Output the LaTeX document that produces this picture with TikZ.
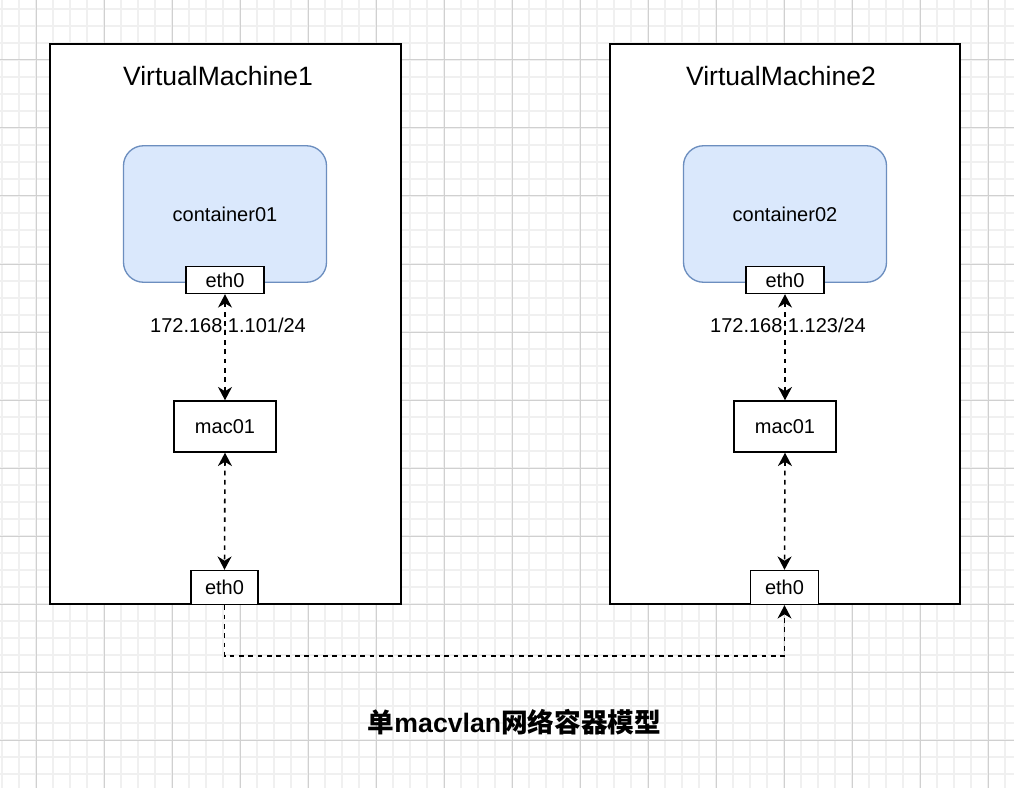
\documentclass[tikz,border=0pt]{standalone}
\usepackage{fontspec}
\setmainfont{Liberation Sans}
\newfontfamily\cjk{Noto Sans CJK SC}
\usetikzlibrary{arrows.meta}
\definecolor{gridminor}{HTML}{F0F0F0}
\definecolor{gridmajor}{HTML}{D0D0D0}
\definecolor{contfill}{HTML}{DAE8FC}
\definecolor{contdraw}{HTML}{6C8EBF}
\tikzset{
  vmbox/.style={draw=black, line width=1.1pt, fill=white, rectangle, inner sep=0pt},
  contbox/.style={draw=contdraw, line width=1pt, fill=contfill, rectangle, rounded corners=15pt, inner sep=0pt,
    font=\fontsize{15pt}{18pt}\selectfont},
  smallbox/.style={draw=black, line width=1.1pt, fill=white, rectangle, inner sep=0pt,
    font=\fontsize{15pt}{18pt}\selectfont},
  vmtitle/.style={font=\fontsize{19.9pt}{24pt}\selectfont, inner sep=0pt},
  iplabel/.style={font=\fontsize{15pt}{18pt}\selectfont, inner sep=0pt},
  link/.style={draw=black, line width=1.2pt, dash pattern=on 3.5pt off 3.5pt,
    >={Stealth[length=10pt, width=10.5pt, inset=3.2pt]}},
}
\begin{document}
\begin{tikzpicture}[x=0.75pt, y=-0.75pt]
\useasboundingbox (0,0) rectangle (1014,788);
\fill[white] (0,0) rectangle (1014,788);
% grid
\foreach \gx in {2,19,...,1013} \draw[gridminor, line width=1.2pt] (\gx,0) -- (\gx,788);
\foreach \gy in {9,26,...,787} \draw[gridminor, line width=1.2pt] (0,\gy) -- (1014,\gy);
\foreach \gx in {36,104,...,1013} \draw[gridmajor, line width=0.75pt] (\gx,0) -- (\gx,788);
\foreach \gy in {60,128,...,787} \draw[gridmajor, line width=0.75pt] (0,\gy) -- (1014,\gy);

% VM boxes
\node[vmbox, minimum width=351*0.75pt, minimum height=560*0.75pt] (vm1) at (225.5,324) {};
\node[vmbox, minimum width=350*0.75pt, minimum height=560*0.75pt] (vm2) at (785,324) {};
\node[vmtitle] (t1) at (218,76) {VirtualMachine1};
\node[vmtitle] (t2) at (781,76) {VirtualMachine2};

% containers
\node[contbox, minimum width=203*0.75pt, minimum height=136.5*0.75pt] (c1) at (225,214) {container01};
\node[contbox, minimum width=203*0.75pt, minimum height=136.5*0.75pt] (c2) at (785,214) {container02};

% container eth0
\node[smallbox, minimum width=78*0.75pt, minimum height=27*0.75pt] (ce1) at (225,280) {eth0};
\node[smallbox, minimum width=78*0.75pt, minimum height=27*0.75pt] (ce2) at (785,280) {eth0};

% mac
\node[smallbox, minimum width=102*0.75pt, minimum height=51*0.75pt] (m1) at (225,426.5) {mac01};
\node[smallbox, minimum width=102*0.75pt, minimum height=51*0.75pt] (m2) at (785,426.5) {mac01};

% bottom eth0
\node[smallbox, minimum width=67*0.75pt, minimum height=34*0.75pt] (e1) at (224.5,587.5) {eth0};
\node[smallbox, minimum width=68*0.75pt, minimum height=34*0.75pt] (e2) at (784.5,587.5) {eth0};

% ip labels
\node[iplabel] (ip1) at (228,325) {172.168.1.101/24};
\node[iplabel] (ip2) at (788,325) {172.168.1.123/24};

% connectors
\draw[link, <->] (ce1.south) -- (m1.north);
\draw[link, <->] (m1.south) -- (e1.north);
\draw[link, <->] (ce2.south) -- (m2.north);
\draw[link, <->] (m2.south) -- (e2.north);
\coordinate (turn) at (224.5,656);
\draw[link, ->] (e1.south) -- (turn) -| (e2.south);

% caption
\node[inner sep=0pt, font=\fontsize{20pt}{24pt}\selectfont\bfseries] (cap) at (514.5,722)
  {{\cjk 单}macvlan{\cjk 网络容器模型}};
\end{tikzpicture}
\end{document}
